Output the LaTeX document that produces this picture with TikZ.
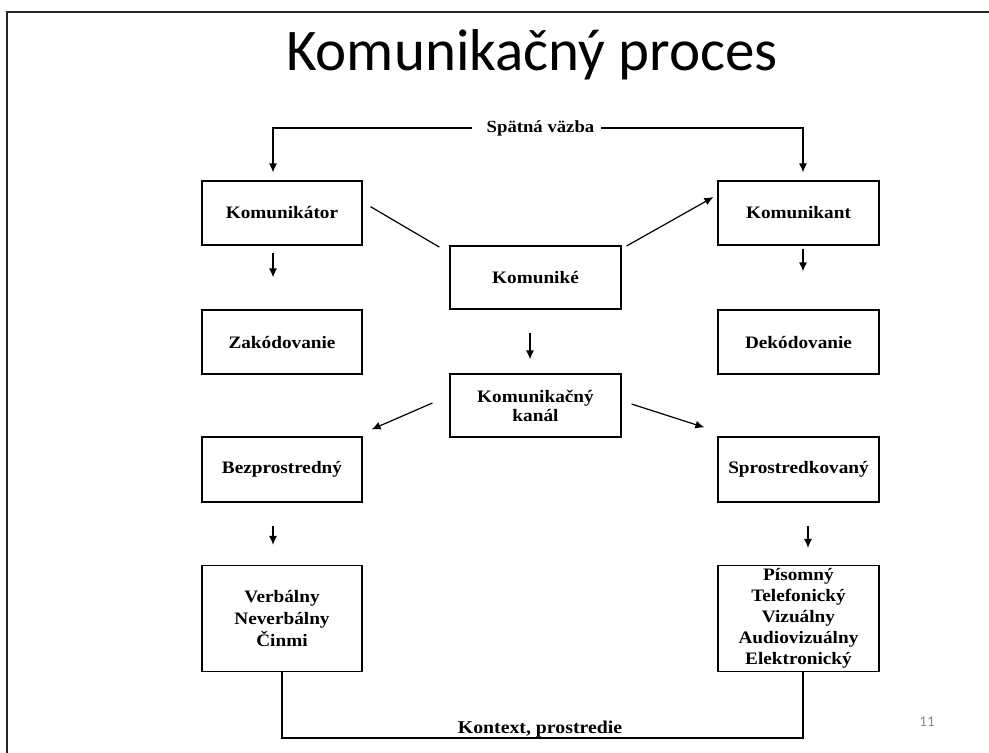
\documentclass[tikz,border=0pt]{standalone}
\usepackage{fontspec}
\setmainfont{Liberation Serif}[FakeStretch=1.1]
\newfontfamily\titlefont{Carlito}
\usetikzlibrary{arrows.meta}

\begin{document}
\begin{tikzpicture}[x=1pt, y=-1pt, >={Latex[length=9pt, width=8pt]}]
    \useasboundingbox (0, 0) rectangle (989, 753);

    \tikzstyle{box} = [draw, line width = 1.2pt, align = center, inner sep = 0pt,
        minimum width = 160pt, minimum height = 64pt,
        font = \fontsize{17.5}{22}\selectfont\bfseries]
    \tikzstyle{conn} = [line width = 1.2pt]

    % slide frame
    \draw[line width = 1.2pt, black!85] (7, 753) -- (7, 12) -- (989, 12);

    \node[anchor = base, font = \titlefont\fontsize{59}{61}\selectfont] (title) at (532, 70) {Komunikačný proces};

    \node[box] (kom) at (282, 213) {Komunikátor};
    \node[box] (zak) at (282, 342) {Zakódovanie};
    \node[box, minimum height = 65pt] (bez) at (282, 469.5) {Bezprostredný};
    \node[box, minimum height = 106pt] (verb) at (282, 618.5) {Verbálny\\Neverbálny\\Činmi};

    \node[box, minimum width = 171pt, minimum height = 63pt] (kome) at (535.5, 277.5) {Komuniké};
    \node[box, minimum width = 171pt, minimum height = 63pt, font = \fontsize{17.5}{19}\selectfont\bfseries]
        (kanal) at (535.5, 405.5) {Komunikačný\\kanál};

    \node[box, minimum width = 161pt] (komt) at (798.5, 213) {Komunikant};
    \node[box, minimum width = 161pt] (dek) at (798.5, 342) {Dekódovanie};
    \node[box, minimum width = 161pt, minimum height = 65pt] (spro) at (798.5, 469.5) {Sprostredkovaný};
    \node[box, minimum width = 161pt, minimum height = 106pt, font = \fontsize{17.5}{21}\selectfont\bfseries]
        (pis) at (798.5, 618.5) {Písomný\\Telefonický\\Vizuálny\\Audiovizuálny\\Elektronický};

    % feedback
    \node[inner xsep = 7pt, font = \fontsize{17}{19}\selectfont\bfseries] (spat) at (540.5, 128) {Spätná väzba};
    \draw[conn, ->, shorten > = 8pt] ([xshift = -8pt]spat.west) -| ([xshift = -9pt]kom.north);
    \draw[conn, ->, shorten > = 8pt] (spat.east) -| ([xshift = 4.5pt]komt.north);

    % context
    \coordinate (ctxline) at (540, 738);
    \node[anchor = base, inner sep = 0pt, font = \fontsize{18}{20}\selectfont\bfseries] (ctx) at (540, 733) {Kontext, prostredie};
    \draw[conn] (verb.south) |- (ctxline) -| ([xshift = 4.5pt]pis.south);

    % arrows
    \draw[conn, ->, shorten < = 7pt, shorten > = 32pt] ([xshift = -9pt]kom.south) -- ([xshift = -9pt]zak.north);
    \draw[conn, ->, shorten < = 3pt, shorten > = 38pt] ([xshift = 4.5pt]komt.south) -- ([xshift = 4.5pt]dek.north);
    \draw[conn, ->, shorten < = 23pt, shorten > = 14pt] ([xshift = -5.5pt]kome.south) -- ([xshift = -5.5pt]kanal.north);
    \draw[conn, ->, shorten < = 23pt, shorten > = 20pt] ([xshift = -9pt]bez.south) -- ([xshift = -9pt]verb.north);
    \draw[conn, ->, shorten < = 23pt, shorten > = 17pt] ([xshift = 9.5pt]spro.south) -- ([xshift = 9.5pt]pis.north);

    \draw[conn, shorten < = 9.2pt, shorten > = 11.6pt] ([yshift = 11pt]kom.east) -- ([yshift = 24.5pt]kome.west);
    \draw[conn, ->, shorten < = 5.7pt, shorten > = 4.6pt] ([yshift = 28.7pt]kome.east) -- ([yshift = 18.2pt]komt.west);
    \draw[conn, ->, shorten < = 18.5pt, shorten > = 9.8pt] ([yshift = 9.9pt]kanal.west) -- ([yshift = 3.1pt]bez.north east);
    \draw[conn, ->, shorten < = 10.5pt, shorten > = 13.7pt] ([yshift = 4.7pt]kanal.east) -- ([yshift = 4.8pt]spro.north west);

    \node[text = black!45, font = \titlefont\fontsize{15}{16}\selectfont] (page) at (927, 722) {11};
\end{tikzpicture}
\end{document}
